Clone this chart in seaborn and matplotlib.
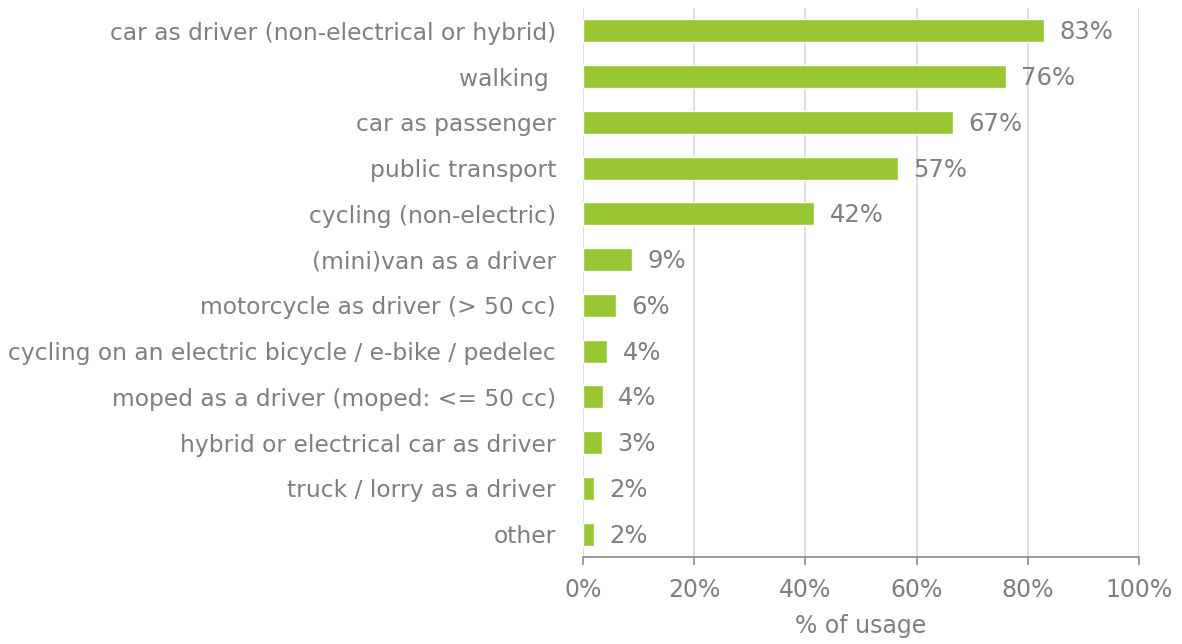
import matplotlib
matplotlib.use("Agg")
import matplotlib.pyplot as plt
import seaborn as sns
import pandas as pd
from matplotlib.ticker import PercentFormatter

modes = [
    "car as driver (non-electrical or hybrid)",
    "walking ",
    "car as passenger",
    "public transport",
    "cycling (non-electric)",
    "(mini)van as a driver",
    "motorcycle as driver (> 50 cc)",
    "cycling on an electric bicycle / e-bike / pedelec",
    "moped as a driver (moped: <= 50 cc)",
    "hybrid or electrical car as driver",
    "truck / lorry as a driver",
    "other",
]
usage = [82.9, 76.1, 66.6, 56.6, 41.6, 8.9, 5.9, 4.4, 3.6, 3.4, 2.0, 2.0]
usage_labels = ["83%", "76%", "67%", "57%", "42%", "9%", "6%", "4%", "4%", "3%", "2%", "2%"]
x_ticks = [0, 20, 40, 60, 80, 100]

df = pd.DataFrame({"mode": modes, "usage": usage})

sns.set_style("white")
plt.rcParams["font.family"] = ["DejaVu Sans"]

green = "#99c633"
grey = "#7f7f7f"

fig = plt.figure(figsize=(11.82, 6.44), dpi=100)
ax = fig.add_axes([0.4932, 0.135, 0.4704, 0.8526])

sns.barplot(data=df, x="usage", y="mode", orient="h", color=green,
            width=0.5, saturation=1, ax=ax)

for i, (v, lab) in enumerate(zip(usage, usage_labels)):
    ax.annotate(lab, (v, i), xytext=(11, -1), textcoords="offset points",
                va="center", ha="left", fontsize=17.5, color=grey)

ax.set_xlim(0, 100)
ax.set_xticks(x_ticks)
ax.xaxis.set_major_formatter(PercentFormatter(decimals=0))
ax.grid(axis="x", color="#d9d9d9", linewidth=1.2)
ax.set_axisbelow(True)
for s in ["top", "right", "left"]:
    ax.spines[s].set_visible(False)
ax.spines["bottom"].set_color("#8c8c8c")
ax.spines["bottom"].set_linewidth(1.2)
ax.tick_params(axis="x", bottom=True, length=6, width=1.2, color="#8c8c8c",
               direction="out", labelsize=17, labelcolor=grey, pad=9)
ax.tick_params(axis="y", left=False, labelsize=16.8, labelcolor=grey, pad=16)
ax.set_ylabel("")
ax.set_xlabel("% of usage", fontsize=17, color=grey, labelpad=9)

fig.savefig("out.png", dpi=100)
plt.close()
